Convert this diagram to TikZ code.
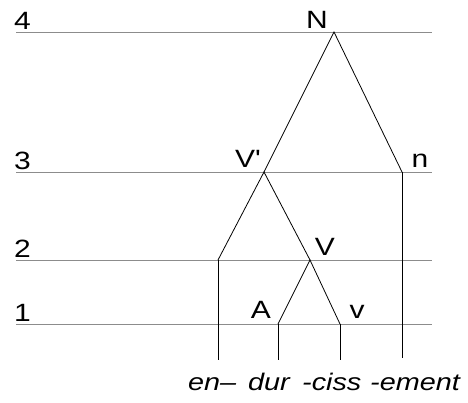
\documentclass[tikz,border=0pt]{standalone}
\usepackage{fontspec}
\newfontfamily\labfont{Liberation Sans}[FakeStretch=1.2]
\usepackage{tikz}
\usepackage{xcolor}

\begin{document}
\begin{tikzpicture}[x=1pt,y=-1pt,
    level/.style={draw=black!45, line width=0.9pt},
    branch/.style={draw=black, line width=0.8pt},
    lab/.style={inner sep=0pt, font=\labfont\fontsize{25}{29}\selectfont},
    morph/.style={inner sep=0pt, anchor=base west, font=\labfont\fontsize{24}{28}\selectfont\itshape}]
    \useasboundingbox (0,0) rectangle (468,402);

    % Levels
    \foreach \lev/\y in {4/32,3/172,2/260,1/324} {
        \coordinate (l\lev) at (16,\y);
        \coordinate (r\lev) at (432,\y);
        \draw[level] (l\lev) -- (r\lev);
        \node[lab, anchor=base west] (num\lev) at (14,\y-3) {\lev};
    }

    % Tree points
    \coordinate (N) at (334,32);
    \coordinate (Vbar) at (264,172);
    \coordinate (n) at (402,172);
    \coordinate (en) at (218,260);
    \coordinate (V) at (310,260);
    \coordinate (A) at (278,324);
    \coordinate (v) at (340,324);

    % Category labels
    \node[lab, anchor=base] (Nlab) at (317,28) {N};
    \node[lab, anchor=base] (Vbarlab) at (248,167) {V'};
    \node[lab, anchor=base] (nlab) at (420,167) {n};
    \node[lab, anchor=base] (Vlab) at (325,255) {V};
    \node[lab, anchor=base] (Alab) at (261,318) {A};
    \node[lab, anchor=base] (vlab) at (357,318) {v};

    % Branches
    \draw[branch] (Vbar) -- (N) -- (n);
    \draw[branch] (en) -- (Vbar) -- (V);
    \draw[branch] (A) -- (V) -- (v);

    % Morphemes
    \node[morph] (enm) at (188,390) {en–};
    \node[morph] (durm) at (248,390) {dur};
    \node[morph] (cissm) at (302,390) {-ciss};
    \node[morph] (ementm) at (370,390) {-ement};
    \coordinate (enb) at (218,360);
    \coordinate (durb) at (278,360);
    \coordinate (cissb) at (340,360);
    \coordinate (ementb) at (402,358);
    \draw[branch] (en) -- (enb);
    \draw[branch] (A) -- (durb);
    \draw[branch] (v) -- (cissb);
    \draw[branch] (n) -- (ementb);
\end{tikzpicture}
\end{document}
